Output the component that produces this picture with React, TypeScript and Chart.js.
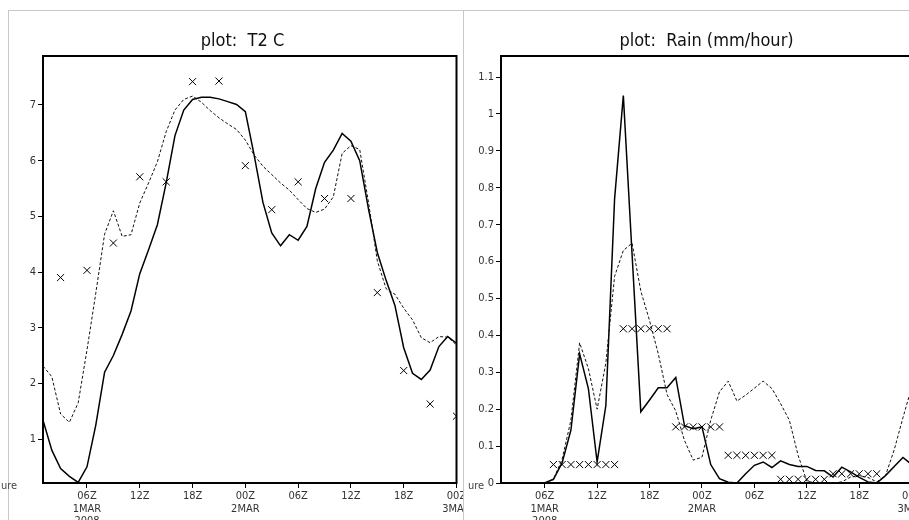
import React, { useEffect, useRef } from "react";
import { Chart, registerables } from "chart.js";

Chart.register(...registerables);

// ---------- data ----------
const hours = [
  1, 2, 3, 4, 5, 6, 7, 8, 9, 10, 11, 12, 13, 14, 15, 16, 17, 18, 19, 20, 21, 22, 23, 24,
  25, 26, 27, 28, 29, 30, 31, 32, 33, 34, 35, 36, 37, 38, 39, 40, 41, 42, 43, 44, 45, 46, 47, 48,
];

const xTickHours = [6, 12, 18, 24, 30, 36, 42, 48];
const xTickLabels: (string | string[])[] = [
  ["06Z", "1MAR", "2008"],
  "12Z",
  "18Z",
  ["00Z", "2MAR"],
  "06Z",
  "12Z",
  "18Z",
  ["00Z", "3MAR"],
];

// T2 (deg C)
const t2Solid = [
  1.34, 0.8, 0.47, 0.33, 0.22, 0.5, 1.25, 2.2, 2.5, 2.88, 3.3, 3.97, 4.4, 4.85, 5.6, 6.45,
  6.91, 7.1, 7.14, 7.14, 7.11, 7.06, 7.01, 6.88, 6.1, 5.25, 4.7, 4.47, 4.67, 4.57, 4.82, 5.5,
  5.97, 6.19, 6.49, 6.35, 6.0, 5.13, 4.35, 3.85, 3.4, 2.64, 2.18, 2.07, 2.24, 2.66, 2.84, 2.72,
];
const t2Dashed = [
  2.31, 2.12, 1.45, 1.3, 1.65, 2.6, 3.62, 4.68, 5.1, 4.64, 4.67, 5.24, 5.6, 5.98, 6.52, 6.91,
  7.1, 7.16, 7.05, 6.9, 6.77, 6.66, 6.56, 6.37, 6.1, 5.9, 5.75, 5.6, 5.47, 5.3, 5.14, 5.07,
  5.13, 5.35, 6.13, 6.27, 6.2, 5.25, 4.2, 3.7, 3.6, 3.35, 3.14, 2.82, 2.73, 2.84, 2.83, 2.69,
];
const t2ObsHours = [3, 6, 9, 12, 15, 18, 21, 24, 27, 30, 33, 36, 39, 42, 45, 48];
const t2Obs = [3.9, 4.03, 4.52, 5.71, 5.62, 7.42, 7.43, 5.91, 5.12, 5.62, 5.32, 5.32, 3.63, 2.23, 1.63, 1.41];
const t2YTicks = [1, 2, 3, 4, 5, 6, 7];
const t2YLabels = ["1", "2", "3", "4", "5", "6", "7"];

// Rain (mm/hour)
const rainSolid = [
  0, 0, 0, 0, 0, 0, 0.01, 0.055, 0.143, 0.35, 0.256, 0.057, 0.21, 0.77, 1.05, 0.62,
  0.193, 0.225, 0.258, 0.258, 0.286, 0.155, 0.147, 0.152, 0.05, 0.012, 0.002, 0, 0.025, 0.048, 0.057, 0.042,
  0.06, 0.05, 0.045, 0.045, 0.034, 0.033, 0.016, 0.043, 0.03, 0.015, 0.003, 0, 0.02, 0.045, 0.069, 0.05,
];
const rainDashed = [
  0, 0, 0, 0, 0, 0, 0.01, 0.065, 0.17, 0.38, 0.31, 0.2, 0.325, 0.56, 0.63, 0.65,
  0.52, 0.44, 0.35, 0.24, 0.195, 0.115, 0.062, 0.07, 0.17, 0.247, 0.276, 0.222, 0.238, 0.257, 0.276, 0.256,
  0.215, 0.17, 0.075, 0.005, 0, 0, 0, 0.003, 0.016, 0.02, 0.015, 0.003, 0.02, 0.09, 0.177, 0.26,
];
const rainObsHours = [
  7, 8, 9, 10, 11, 12, 13, 14, 15, 16, 17, 18, 19, 20, 21, 22, 23, 24, 25, 26,
  27, 28, 29, 30, 31, 32, 33, 34, 35, 36, 37, 38, 39, 40, 41, 42, 43, 44,
];
const rainObs = [
  0.05, 0.05, 0.05, 0.05, 0.05, 0.05, 0.05, 0.05, 0.418, 0.418, 0.418, 0.418, 0.418, 0.418,
  0.152, 0.152, 0.152, 0.152, 0.152, 0.152, 0.075, 0.075, 0.075, 0.075, 0.075, 0.075,
  0.01, 0.01, 0.01, 0.01, 0.01, 0.01, 0.025, 0.025, 0.025, 0.025, 0.025, 0.025,
];
const rainYTicks = [0, 0.1, 0.2, 0.3, 0.4, 0.5, 0.6, 0.7, 0.8, 0.9, 1.0, 1.1];
const rainYLabels = ["0", "0.1", "0.2", "0.3", "0.4", "0.5", "0.6", "0.7", "0.8", "0.9", "1", "1.1"];

// ---------- styling ----------
const TICK_FONT = '"DejaVu Sans Condensed", "Liberation Sans Narrow", "DejaVu Sans", sans-serif';
const TITLE_FONT = '"DejaVu Sans Condensed", "DejaVu Sans", sans-serif';

const decoPlugin = {
  id: "deco",
  beforeDatasetsDraw(chart: any) {
    const { ctx, chartArea } = chart;
    ctx.save();
    ctx.strokeStyle = "#000";
    ctx.lineWidth = 2;
    ctx.strokeRect(chartArea.left, chartArea.top, chartArea.right - chartArea.left, chartArea.bottom - chartArea.top);
    ctx.restore();
  },
  afterDraw(chart: any, _args: any, opts: any) {
    const { ctx } = chart;
    ctx.save();
    ctx.fillStyle = "#111";
    ctx.font = `18px ${TITLE_FONT}`;
    ctx.textAlign = "center";
    ctx.textBaseline = "middle";
    ctx.fillText(opts.title, opts.titleX, opts.titleY);
    ctx.fillStyle = "#444";
    ctx.font = `11px ${TICK_FONT}`;
    ctx.textAlign = "left";
    ctx.fillText(opts.side, opts.sideX, opts.sideY);
    ctx.restore();
  },
};

function pts(xs: number[], ys: number[]) {
  return xs.map((x, i) => ({ x, y: ys[i] }));
}

function makeConfig(p: {
  solid: number[];
  dashed: number[];
  obsX: number[];
  obs: number[];
  yMin: number;
  yMax: number;
  yTicks: number[];
  yLabels: string[];
  yWidth: number;
  padRight: number;
  obsRadius: number;
  title: string;
  titleX: number;
  side: string;
  sideX: number;
}): any {
  return {
    type: "line",
    data: {
      datasets: [
        {
          data: pts(hours, p.dashed),
          borderColor: "#111",
          borderWidth: 1,
          borderDash: [3, 2],
          pointRadius: 0,
          tension: 0,
          fill: false,
        },
        {
          data: pts(hours, p.solid),
          borderColor: "#000",
          borderWidth: 1.5,
          pointRadius: 0,
          tension: 0,
          fill: false,
        },
        {
          data: pts(p.obsX, p.obs),
          showLine: false,
          pointStyle: "crossRot",
          pointRadius: p.obsRadius,
          pointBorderColor: "#000",
          pointBorderWidth: 1,
          borderColor: "#000",
        },
      ],
    },
    options: {
      responsive: false,
      animation: false,
      devicePixelRatio: 1,
      layout: { padding: { top: 56, right: p.padRight, left: 0, bottom: 0 } },
      plugins: {
        legend: { display: false },
        tooltip: { enabled: false },
        title: { display: false },
        deco: {
          title: p.title,
          titleX: p.titleX,
          titleY: 41,
          side: p.side,
          sideX: p.sideX,
          sideY: 486,
        },
      },
      scales: {
        x: {
          type: "linear",
          min: 1,
          max: 48,
          afterBuildTicks(scale: any) {
            scale.ticks = xTickHours.map((v) => ({ value: v }));
          },
          afterFit(scale: any) {
            scale.height = 37;
            scale.paddingLeft = 0;
            scale.paddingRight = 0;
          },
          ticks: {
            autoSkip: false,
            maxRotation: 0,
            minRotation: 0,
            padding: 2,
            color: "#333",
            font: { family: TICK_FONT, size: 11, lineHeight: 1.15 },
            callback: (v: number) => {
              const i = xTickHours.indexOf(v);
              return i >= 0 ? xTickLabels[i] : "";
            },
          },
          grid: { drawOnChartArea: false, drawTicks: true, tickLength: 5, color: "#000" },
          border: { display: false },
        },
        y: {
          type: "linear",
          min: p.yMin,
          max: p.yMax,
          afterBuildTicks(scale: any) {
            scale.ticks = p.yTicks.map((v) => ({ value: v }));
          },
          afterFit(scale: any) {
            scale.width = p.yWidth;
            scale.paddingTop = 0;
            scale.paddingBottom = 0;
          },
          ticks: {
            padding: 2,
            color: "#333",
            font: { family: TICK_FONT, size: 11 },
            callback: (v: number) => {
              const i = p.yTicks.findIndex((t) => Math.abs(t - v) < 1e-6);
              return i >= 0 ? p.yLabels[i] : "";
            },
          },
          grid: { drawOnChartArea: false, drawTicks: true, tickLength: 5, color: "#000" },
          border: { display: false },
        },
      },
    },
    plugins: [decoPlugin],
  };
}

function Panel(props: { left: number; width: number; config: any }) {
  const ref = useRef<HTMLCanvasElement | null>(null);
  useEffect(() => {
    if (!ref.current) return;
    const chart = new Chart(ref.current, props.config);
    return () => chart.destroy();
  }, []);
  return (
    <canvas
      ref={ref}
      width={props.width}
      height={520}
      style={{ position: "absolute", left: props.left, top: 0, width: props.width, height: 520 }}
    />
  );
}

export default function App() {
  const leftCfg = makeConfig({
    solid: t2Solid,
    dashed: t2Dashed,
    obsX: t2ObsHours,
    obs: t2Obs,
    yMin: 0.21,
    yMax: 7.88,
    yTicks: t2YTicks,
    yLabels: t2YLabels,
    yWidth: 43,
    padRight: 6.5,
    obsRadius: 5,
    title: "plot:  T2 C",
    titleX: 242.5,
    side: "ure",
    sideX: 1,
  });
  const rightCfg = makeConfig({
    solid: rainSolid,
    dashed: rainDashed,
    obsX: rainObsHours,
    obs: rainObs,
    yMin: 0,
    yMax: 1.157,
    yTicks: rainYTicks,
    yLabels: rainYLabels,
    yWidth: 38,
    padRight: 11.3,
    obsRadius: 5,
    title: "plot:  Rain (mm/hour)",
    titleX: 243.5,
    side: "ure",
    sideX: 5,
  });
  const line = "#c8c8c8";
  return (
    <div
      style={{
        position: "fixed",
        left: 0,
        top: 0,
        width: 909,
        height: 520,
        overflow: "hidden",
        background: "#fff",
      }}
    >
      <div style={{ position: "absolute", left: 8, top: 10, width: 901, height: 1, background: line }} />
      <div style={{ position: "absolute", left: 8, top: 10, width: 1, height: 510, background: line }} />
      <div style={{ position: "absolute", left: 463, top: 10, width: 1, height: 510, background: line }} />
      <Panel left={0} width={463} config={leftCfg} />
      <Panel left={463} width={460} config={rightCfg} />
    </div>
  );
}
